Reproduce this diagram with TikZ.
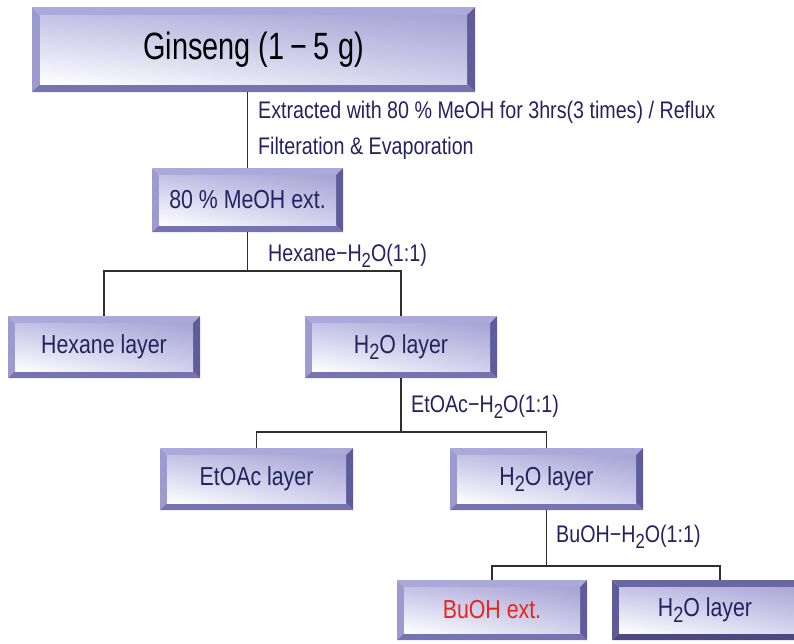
\documentclass[tikz,border=0pt]{standalone}
\usepackage{fontspec}
\setmainfont{Liberation Sans}[FakeStretch=0.82]
\newfontfamily\ginfont{Liberation Sans}[FakeStretch=0.76]
\usetikzlibrary{calc,shadings}
\definecolor{bvT}{HTML}{ABA8DA}
\definecolor{bvL}{HTML}{9D9ACF}
\definecolor{bvB}{HTML}{7673B3}
\definecolor{bvR}{HTML}{5F5C9C}
\definecolor{dkT}{HTML}{6A67A3}
\definecolor{dkL}{HTML}{5E5B98}
\definecolor{dkB}{HTML}{4B4882}
\definecolor{dkR}{HTML}{403D74}
\definecolor{fUL}{HTML}{C4C2E6}
\definecolor{fUR}{HTML}{A6A3D4}
\definecolor{fLR}{HTML}{D3D1EC}
\definecolor{navy}{HTML}{23235F}
\definecolor{lncol}{HTML}{2E2E2E}
\definecolor{redtxt}{HTML}{E8261E}
\newcommand\lowtwo{\raisebox{-0.45ex}{\fontsize{0.85em}{1em}\selectfont 2}}
\newcommand\bevelpic[5]{%
  \coordinate (NW) at (path picture bounding box.north west);
  \coordinate (NE) at (path picture bounding box.north east);
  \coordinate (SW) at (path picture bounding box.south west);
  \coordinate (SE) at (path picture bounding box.south east);
  \fill[#1] (NW) -- (NE) -- ([shift={(-#5,-#5)}]NE) -- ([shift={(#5,-#5)}]NW) -- cycle;
  \fill[#2] (NW) -- ([shift={(#5,-#5)}]NW) -- ([shift={(#5,#5)}]SW) -- (SW) -- cycle;
  \fill[#3] (SW) -- ([shift={(#5,#5)}]SW) -- ([shift={(-#5,#5)}]SE) -- (SE) -- cycle;
  \fill[#4] (SE) -- ([shift={(-#5,#5)}]SE) -- ([shift={(-#5,-#5)}]NE) -- (NE) -- cycle;
  \shade[upper left=fUL, upper right=fUR, lower left=white, lower right=fLR]
    ([shift={(#5,#5)}]SW) rectangle ([shift={(-#5,-#5)}]NE);
}
\begin{document}
\begin{tikzpicture}[x=1pt,y=-1pt,
  bevbox/.style 2 args={minimum width=#1, minimum height=#2, inner sep=0pt,
     text=navy, font=\fontsize{26}{28}\selectfont,
     path picture={\bevelpic{bvT}{bvL}{bvB}{bvR}{7pt}}},
  bigbox/.style 2 args={minimum width=#1, minimum height=#2, inner sep=0pt,
     text=black, font=\ginfont\fontsize{38}{40}\selectfont,
     path picture={\bevelpic{bvT}{bvL}{bvB}{bvR}{8pt}}},
  darkbox/.style 2 args={minimum width=#1, minimum height=#2, inner sep=0pt,
     text=navy, font=\fontsize{26}{28}\selectfont,
     path picture={\bevelpic{dkT}{dkL}{dkB}{dkR}{7pt}}},
  lbl/.style={anchor=west, inner sep=0pt, text=navy, font=\fontsize{24}{26}\selectfont},
  ln/.style={draw=lncol, line width=1.6pt}
]
\useasboundingbox (0,0) rectangle (794,643);

% boxes
\node[bigbox={443pt}{85pt}] (gin) at (253.5,49.5) {Ginseng (1\,−\,5 g)};
\node[bevbox={191pt}{64pt}] (ext) at (247.5,200) {80 \% MeOH ext.};
\node[bevbox={192pt}{62pt}] (hex) at (104,347) {Hexane layer};
\node[bevbox={192pt}{62pt}] (wa) at (401,347) {H\lowtwo O layer};
\node[bevbox={193pt}{62pt}] (eto) at (256.5,479) {EtOAc layer};
\node[bevbox={193pt}{62pt}] (wb) at (546.5,479) {H\lowtwo O layer};
\node[bevbox={190pt}{60pt}, text=redtxt] (bu) at (492,610) {BuOH ext.};
\node[darkbox={216pt}{60pt}] (wc) at (720,610) {\hspace*{-30pt}H\lowtwo O layer};

% junctions
\coordinate (j1) at (247.5,271);
\coordinate (j2) at (401,432);
\coordinate (j3) at (546.5,566);

% connectors
\draw[ln] (gin.south -| ext.north) -- (ext.north);
\draw[ln] (ext.south) -- (j1);
\draw[ln] (hex.north) -- (hex.north |- j1) -- (wa.north |- j1) -- (wa.north);
\draw[ln] (wa.south) -- (j2);
\draw[ln] (eto.north) -- (eto.north |- j2) -- (wb.north |- j2) -- (wb.north);
\draw[ln] (wb.south) -- (j3);
\draw[ln] (bu.north) -- (bu.north |- j3) -- (wc.north |- j3) -- (wc.north);

% labels
\node[lbl] (l1) at (258,112) {Extracted with 80 \% MeOH for 3hrs(3 times) / Reflux};
\node[lbl] (l2) at (258,148) {Filteration \& Evaporation};
\node[lbl] (l3) at (268,256) {Hexane−H\lowtwo O(1:1)};
\node[lbl] (l4) at (411,407) {EtOAc−H\lowtwo O(1:1)};
\node[lbl] (l5) at (556,537) {BuOH−H\lowtwo O(1:1)};
\end{tikzpicture}
\end{document}
